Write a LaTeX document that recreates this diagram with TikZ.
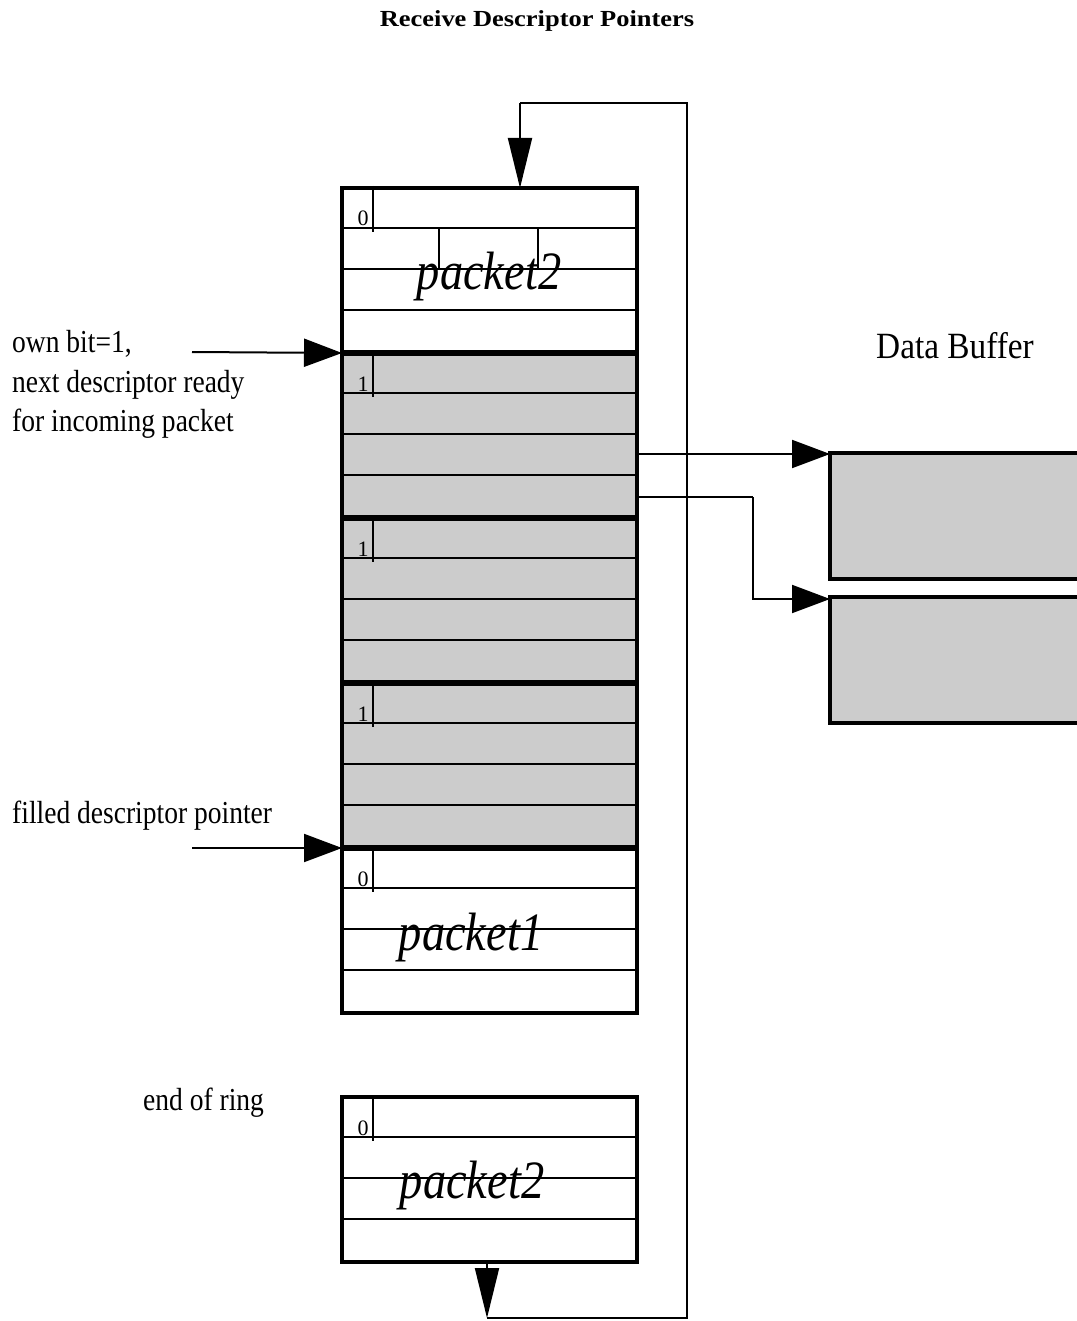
\documentclass[tikz,border=0pt]{standalone}
\usepackage{fontspec}
\setmainfont{Liberation Serif}
\newfontfamily\cond[FakeStretch=0.86]{Liberation Serif}
\newfontfamily\condb[FakeStretch=0.9]{Liberation Serif}
\newfontfamily\wideb[FakeStretch=1.15]{Liberation Serif}
\usetikzlibrary{arrows.meta}
\definecolor{shade}{HTML}{CCCCCC}
\begin{document}
\begin{tikzpicture}[x=1pt,y=-1pt,
  desc/.style={line width=4.5pt, minimum width=295pt, minimum height=165pt, inner sep=0pt, outer sep=0pt, anchor=north west},
  buf/.style={draw, line width=4.5pt, fill=shade, minimum width=270pt, minimum height=126pt, inner sep=0pt, outer sep=0pt, anchor=north west},
  row/.style={line width=2pt},
  bitmark/.style={line width=2.5pt},
  conn/.style={line width=2pt},
  harrow/.style={conn, -{Triangle[length=38pt,width=28pt]}},
  varrow/.style={conn, -{Triangle[length=50pt,width=24pt]}},
  lbl/.style={font=\cond\fontsize{32}{40}\selectfont, anchor=base west, inner sep=0pt},
  pkt/.style={font=\cond\itshape\fontsize{54}{54}\selectfont, anchor=base, inner sep=0pt},
  bit/.style={font=\fontsize{22}{22}\selectfont, anchor=base, inner sep=0pt}
]
\useasboundingbox (0,0) rectangle (1076,1321);

% title
\node[font=\wideb\bfseries\fontsize{23}{23}\selectfont, anchor=base, inner sep=0pt] (title) at (537,27) {Receive Descriptor Pointers};

% descriptors
\node[desc, fill=white] (d1) at (342,188) {};
\node[desc, fill=shade] (d2) at (342,353) {};
\node[desc, fill=shade] (d3) at (342,518) {};
\node[desc, fill=shade] (d4) at (342,683) {};
\node[desc, fill=white] (d5) at (342,848) {};
\node[desc, fill=white] (ring) at (342,1097) {};

% rows and bit markers
\foreach \y in {188,353,518,683,848,1097}{
  \draw[row] (342,\y+40) -- (637,\y+40);
  \draw[row] (342,\y+81) -- (637,\y+81);
  \draw[row] (342,\y+122) -- (637,\y+122);
  \draw[bitmark] (373,\y-2) -- (373,\y+44);
}
\draw[row] (439,228) -- (439,269);
\draw[row] (538,228) -- (538,269);

% bit labels
\node[bit] (b1) at (363,226) {0};
\node[bit] (b2) at (363,391) {1};
\node[bit] (b3) at (363,556) {1};
\node[bit] (b4) at (363,721) {1};
\node[bit] (b5) at (363,886) {0};
\node[bit] (b6) at (363,1135) {0};

% packet labels
\node[pkt] (p1) at (489,290) {packet2};
\node[pkt] (p2) at (471,950) {packet1};
\node[pkt] (p3) at (472,1198) {packet2};

% outlines
\foreach \n in {d1,d2,d3,d4,d5,ring}{
  \draw[line width=4.5pt] (\n.north west) rectangle (\n.south east);
}
\draw[line width=6pt] (342,353) -- (637,353);
\draw[line width=6pt] (342,518) -- (637,518);
\draw[line width=6pt] (342,683) -- (637,683);
\draw[line width=6pt] (342,848) -- (637,848);

% data buffers
\node[buf] (buf1) at (830,453) {};
\node[buf] (buf2) at (830,597) {};
\node[font=\condb\fontsize{37}{37}\selectfont, anchor=base west, inner sep=0pt] (dbl) at (876,358) {Data Buffer};

% left labels
\node[lbl] (own1) at (12,352) {own bit=1,};
\node[lbl] (own2) at (12,392) {next descriptor ready};
\node[lbl] (own3) at (12,431) {for incoming packet};
\node[lbl] (filled) at (12,823) {filled descriptor pointer};
\node[lbl] (eor) at (143,1110) {end of ring};

\coordinate (s1) at (192,352);
\coordinate (s2) at (192,848);
\draw[harrow] (s1) -- (d2.north west);
\draw[harrow] (s2) -- (d5.north west);

% ring loop
\coordinate (lA) at (487,1318);
\coordinate (lB) at (687,1318);
\coordinate (lC) at (687,103);
\coordinate (lD) at (520,103);
\draw[varrow] (ring.south -| lA) -- (lA);
\draw[conn] (lA) -- (lB) -- (lC) -- (lD);
\draw[varrow] (lD) -- (d1.north -| lD);

% buffer pointers
\coordinate (o1) at (637,454);
\coordinate (o2) at (637,497);
\coordinate (bend) at (753,497);
\draw[harrow] (o1) -- (o1 -| buf1.west);
\draw[conn] (o2) -- (bend);
\draw[harrow] (bend) -- (bend |- 0,599) -- (buf2.north west |- 0,599);
\end{tikzpicture}
\end{document}
